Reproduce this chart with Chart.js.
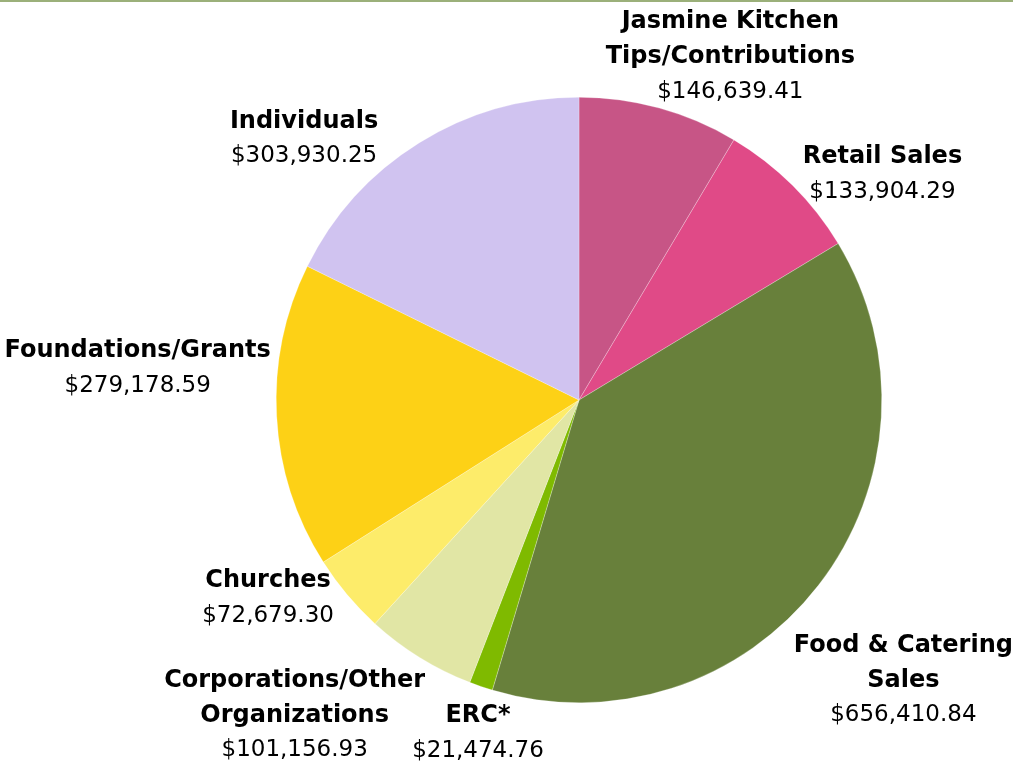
<!DOCTYPE html>
<html>
<head>
<meta charset="utf-8">
<script src="https://cdn.jsdelivr.net/npm/chart.js@4"></script>
<style>
    html, body { margin: 0; padding: 0; background: #ffffff; }
    #wrap { position: relative; width: 1013px; height: 766px; border-top: 2px solid #9bb07a; box-sizing: border-box; }
</style>
</head>
<body>
<div id="wrap"><canvas id="revenuePie"></canvas></div>
<script>
// --- Data ---
const categories = [
    ['Jasmine Kitchen', 'Tips/Contributions'],
    ['Retail Sales'],
    ['Food & Catering', 'Sales'],
    ['ERC*'],
    ['Corporations/Other', 'Organizations'],
    ['Churches'],
    ['Foundations/Grants'],
    ['Individuals']
];
const amounts = [146639.41, 133904.29, 656410.84, 21474.76, 101156.93, 72679.30, 279178.59, 303930.25];
const sliceColors = ['#c75586', '#e04a87', '#68803b', '#7fba00', '#e1e6a5', '#fdec6a', '#fdd116', '#d0c3f0'];

// label nudges from each slice's outer edge (layout only)
const labelNudge = [[71, -51], [90, -11], [85, 95], [-3, 47], [-125, 58], [-79, 4], [-139, -48], [-115, -4]];

const FONT = '"DejaVu Sans", sans-serif';
const LINE_H = 35;

function money(v) {
    return '$' + v.toLocaleString('en-US', { minimumFractionDigits: 2, maximumFractionDigits: 2 });
}

// --- Outside labels drawn from arc geometry ---
const sliceLabels = {
    id: 'sliceLabels',
    afterDatasetsDraw(chart) {
        const ctx = chart.ctx;
        const meta = chart.getDatasetMeta(0);
        ctx.save();
        ctx.fillStyle = '#000000';
        ctx.textAlign = 'center';
        ctx.textBaseline = 'middle';
        meta.data.forEach((arc, i) => {
            const p = arc.getProps(['x', 'y', 'startAngle', 'endAngle', 'outerRadius'], true);
            const mid = (p.startAngle + p.endAngle) / 2;
            const ex = p.x + Math.cos(mid) * p.outerRadius;
            const ey = p.y + Math.sin(mid) * p.outerRadius;
            const cx = ex + labelNudge[i][0];
            const cy = ey + labelNudge[i][1];
            const lines = categories[i];
            const total = lines.length + 1;
            let y = cy - (total - 1) * LINE_H / 2;
            ctx.font = 'bold 24px ' + FONT;
            lines.forEach(line => {
                ctx.fillText(line, cx, y);
                y += LINE_H;
            });
            ctx.font = '23px ' + FONT;
            ctx.fillText(money(amounts[i]), cx, y);
        });
        ctx.restore();
    }
};

window.addEventListener('DOMContentLoaded', () => {
    const ctx = document.getElementById('revenuePie').getContext('2d');
    new Chart(ctx, {
        type: 'pie',
        data: {
            labels: categories.map(c => c.join(' ')),
            datasets: [{
                data: amounts,
                backgroundColor: sliceColors,
                borderColor: 'rgba(255,255,255,0.5)',
                borderWidth: 0.5
            }]
        },
        options: {
            responsive: true,
            maintainAspectRatio: false,
            animation: false,
            layout: { padding: { left: 276, right: 131, top: 95, bottom: 63 } },
            plugins: {
                legend: { display: false },
                tooltip: { enabled: false }
            }
        },
        plugins: [sliceLabels]
    });
});
</script>
</body>
</html>
